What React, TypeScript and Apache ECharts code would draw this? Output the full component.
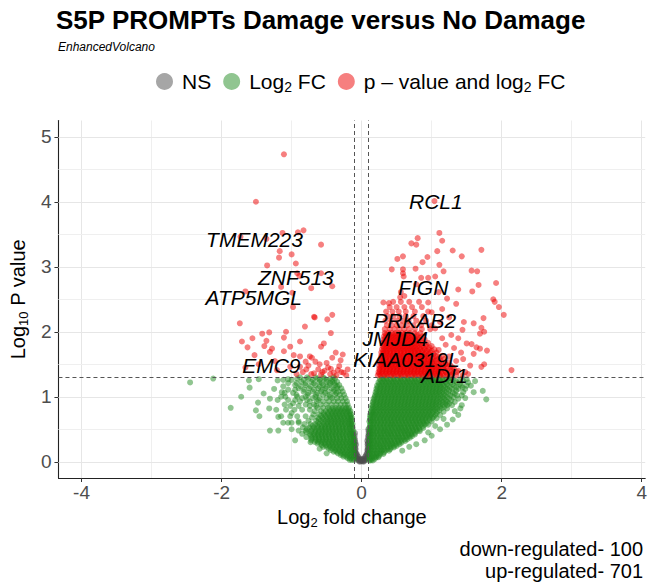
import React, { useEffect, useRef } from 'react';
import * as echarts from 'echarts';

const FONT = '"Liberation Sans", Arial, Helvetica, sans-serif';

const xTickValues = [-4, -2, 0, 2, 4];
const yTickValues = [0, 1, 2, 3, 4, 5];
const xGridMajor = [-4, -2, 0, 2, 4];
const xGridMinor = [-3, -1, 1, 3];
const yGridMajor = [0, 1, 2, 3, 4, 5];
const yGridMinor = [0.5, 1.5, 2.5, 3.5, 4.5];
const fcCutoff = 0.1;
const pCutoff = 1.30103;

const legendNames = ['NS', 'Log2 FC', 'p - value and log2 FC'];
const captionLines = ['down-regulated- 100', 'up-regulated- 701'];

// NS points [x, y]
const nsPoints: number[][] = [
  [0.0, 0.005], [0.02, 0.01], [-0.02, 0.01], [0.04, 0.02], [-0.04, 0.02], [0.01, 0.03], [-0.01, 0.03],
  [0.06, 0.04], [-0.06, 0.04], [0.03, 0.05], [-0.03, 0.05], [0.08, 0.06], [-0.08, 0.06], [0.05, 0.08],
  [-0.05, 0.08], [0.09, 0.1], [-0.09, 0.1], [0.07, 0.12], [-0.07, 0.12], [0.095, 0.16], [-0.095, 0.16],
  [0.08, 0.18], [-0.085, 0.2], [0.1, 0.24], [-0.1, 0.25], [0.09, 0.28], [-0.09, 0.3], [0.1, 0.34],
  [-0.1, 0.36], [0.095, 0.4], [0.1, 0.44], [-0.09, 0.14], [0.09, 0.2], [0.0, 0.02], [0.02, 0.04], [-0.02, 0.04],
  [0.03, 0.0], [-0.03, 0.0], [0.05, 0.02], [-0.05, 0.02], [0.07, 0.06], [-0.07, 0.06], [0.06, 0.09],
  [-0.06, 0.09], [0.08, 0.13], [-0.08, 0.13], [0.09, 0.17], [-0.09, 0.18], [0.085, 0.23], [-0.095, 0.22],
  [0.095, 0.3], [-0.1, 0.28], [0.09, 0.36], [-0.095, 0.33], [0.1, 0.4], [0.08, 0.32], [0.1, 0.47],
  [0.095, 0.5], [-0.1, 0.4], [-0.095, 0.44], [0.085, 0.27], [-0.08, 0.26],
];

// Log2 FC only, up side: rows [y, x1, x2, ...]
const fcUpRows: number[][] = [
  [0.02, 0.11, 0.13, 0.16],
  [0.07, 0.11, 0.14, 0.18, 0.21, 0.24],
  [0.12, 0.11, 0.15, 0.19, 0.23, 0.27, 0.31],
  [0.17, 0.12, 0.16, 0.2, 0.25, 0.29, 0.34, 0.39],
  [0.22, 0.11, 0.14, 0.18, 0.23, 0.28, 0.32, 0.37, 0.42, 0.46],
  [0.27, 0.12, 0.16, 0.21, 0.25, 0.3, 0.35, 0.4, 0.44, 0.49, 0.54],
  [0.32, 0.11, 0.14, 0.18, 0.23, 0.28, 0.33, 0.37, 0.42, 0.47, 0.52, 0.57, 0.62],
  [0.37, 0.12, 0.16, 0.21, 0.26, 0.3, 0.35, 0.4, 0.45, 0.5, 0.54, 0.59, 0.64, 0.69],
  [0.42, 0.11, 0.14, 0.18, 0.23, 0.28, 0.33, 0.38, 0.42, 0.47, 0.52, 0.57, 0.62, 0.67, 0.71, 0.76],
  [0.47, 0.12, 0.16, 0.21, 0.26, 0.31, 0.35, 0.4, 0.45, 0.5, 0.55, 0.6, 0.64, 0.69, 0.74, 0.79, 0.83],
  [0.52, 0.11, 0.14, 0.18, 0.23, 0.28, 0.33, 0.38, 0.43, 0.48, 0.53, 0.57, 0.62, 0.67, 0.72, 0.77, 0.82, 0.88],
  [0.57, 0.12, 0.16, 0.21, 0.26, 0.31, 0.36, 0.41, 0.45, 0.5, 0.55, 0.6, 0.65, 0.7, 0.75, 0.8, 0.85, 0.9, 0.95],
  [0.62, 0.11, 0.14, 0.18, 0.23, 0.28, 0.33, 0.38, 0.43, 0.48, 0.53, 0.58, 0.63, 0.68, 0.73, 0.78, 0.83, 0.88, 0.93, 1.0],
  [0.67, 0.12, 0.16, 0.21, 0.26, 0.31, 0.36, 0.41, 0.46, 0.51, 0.56, 0.61, 0.66, 0.71, 0.76, 0.81, 0.86, 0.91, 0.96, 1.01, 1.07],
  [0.72, 0.12, 0.15, 0.19, 0.24, 0.29, 0.34, 0.39, 0.44, 0.49, 0.54, 0.59, 0.64, 0.69, 0.74, 0.79, 0.84, 0.89, 0.94, 0.99, 1.05, 1.12],
  [0.77, 0.13, 0.17, 0.22, 0.27, 0.32, 0.37, 0.42, 0.47, 0.52, 0.57, 0.62, 0.67, 0.72, 0.77, 0.82, 0.87, 0.92, 0.97, 1.02, 1.08, 1.17],
  [0.82, 0.14, 0.18, 0.23, 0.28, 0.33, 0.38, 0.43, 0.48, 0.53, 0.58, 0.63, 0.68, 0.73, 0.78, 0.83, 0.88, 0.93, 0.98, 1.03, 1.08, 1.14, 1.22],
  [0.87, 0.15, 0.2, 0.25, 0.3, 0.35, 0.4, 0.45, 0.5, 0.55, 0.6, 0.65, 0.7, 0.75, 0.8, 0.85, 0.9, 0.95, 1.0, 1.05, 1.1, 1.16, 1.22, 1.29],
  [0.92, 0.16, 0.21, 0.26, 0.31, 0.36, 0.41, 0.46, 0.51, 0.56, 0.61, 0.66, 0.71, 0.76, 0.81, 0.86, 0.91, 0.96, 1.01, 1.06, 1.11, 1.16, 1.22, 1.33],
  [0.97, 0.17, 0.22, 0.27, 0.32, 0.37, 0.42, 0.47, 0.52, 0.57, 0.62, 0.67, 0.72, 0.77, 0.82, 0.87, 0.92, 0.97, 1.02, 1.07, 1.12, 1.18, 1.25, 1.38],
  [1.02, 0.19, 0.23, 0.28, 0.33, 0.38, 0.43, 0.48, 0.53, 0.58, 0.63, 0.68, 0.73, 0.78, 0.83, 0.88, 0.93, 0.98, 1.03, 1.08, 1.13, 1.19, 1.27, 1.36, 1.43],
  [1.07, 0.2, 0.25, 0.3, 0.35, 0.4, 0.45, 0.5, 0.55, 0.6, 0.65, 0.7, 0.75, 0.8, 0.85, 0.9, 0.95, 1.0, 1.05, 1.1, 1.15, 1.21, 1.3, 1.45],
  [1.12, 0.21, 0.26, 0.31, 0.36, 0.41, 0.46, 0.51, 0.56, 0.61, 0.66, 0.71, 0.76, 0.81, 0.86, 0.91, 0.96, 1.01, 1.06, 1.11, 1.16, 1.22, 1.29, 1.38, 1.48],
  [1.17, 0.22, 0.27, 0.32, 0.37, 0.42, 0.47, 0.52, 0.57, 0.62, 0.67, 0.72, 0.77, 0.82, 0.87, 0.92, 0.97, 1.02, 1.07, 1.12, 1.17, 1.23, 1.32, 1.42, 1.5],
  [1.22, 0.24, 0.29, 0.34, 0.39, 0.44, 0.49, 0.54, 0.59, 0.64, 0.69, 0.74, 0.79, 0.84, 0.89, 0.94, 0.99, 1.04, 1.09, 1.14, 1.2, 1.27, 1.36, 1.52],
  [1.27, 0.26, 0.31, 0.36, 0.41, 0.46, 0.51, 0.56, 0.61, 0.66, 0.71, 0.76, 0.81, 0.86, 0.91, 0.96, 1.01, 1.06, 1.11, 1.16, 1.22, 1.3, 1.41, 1.5],
];

// Log2 FC only, up side: in-between rows [y, x1, x2, ...]
const fcUpRowsB: number[][] = [
  [0.045, 0.12, 0.15, 0.19],
  [0.095, 0.12, 0.16, 0.21, 0.25],
  [0.145, 0.12, 0.17, 0.22, 0.27, 0.32],
  [0.195, 0.13, 0.18, 0.23, 0.27, 0.32, 0.37, 0.41],
  [0.245, 0.12, 0.16, 0.21, 0.26, 0.31, 0.36, 0.41, 0.46, 0.5],
  [0.295, 0.13, 0.18, 0.23, 0.28, 0.33, 0.38, 0.43, 0.48, 0.53, 0.57],
  [0.345, 0.12, 0.16, 0.21, 0.26, 0.31, 0.36, 0.41, 0.46, 0.51, 0.56, 0.61, 0.65],
  [0.395, 0.13, 0.18, 0.23, 0.28, 0.33, 0.38, 0.43, 0.48, 0.53, 0.58, 0.63, 0.68, 0.72],
  [0.445, 0.12, 0.16, 0.21, 0.26, 0.31, 0.36, 0.41, 0.46, 0.51, 0.56, 0.61, 0.66, 0.71, 0.76],
  [0.495, 0.13, 0.18, 0.23, 0.28, 0.33, 0.38, 0.43, 0.48, 0.53, 0.58, 0.63, 0.68, 0.73, 0.78, 0.83],
  [0.545, 0.12, 0.16, 0.21, 0.26, 0.31, 0.36, 0.41, 0.46, 0.51, 0.56, 0.61, 0.66, 0.71, 0.76, 0.81, 0.87],
  [0.595, 0.13, 0.18, 0.23, 0.28, 0.33, 0.38, 0.43, 0.48, 0.53, 0.58, 0.63, 0.68, 0.73, 0.78, 0.83, 0.88, 0.93],
  [0.645, 0.12, 0.16, 0.21, 0.26, 0.31, 0.36, 0.41, 0.46, 0.51, 0.56, 0.61, 0.66, 0.71, 0.76, 0.81, 0.86, 0.91, 0.97],
  [0.695, 0.13, 0.18, 0.23, 0.28, 0.33, 0.38, 0.43, 0.48, 0.53, 0.58, 0.63, 0.68, 0.73, 0.78, 0.83, 0.88, 0.93, 0.98, 1.03],
  [0.745, 0.14, 0.17, 0.21, 0.26, 0.31, 0.36, 0.41, 0.46, 0.51, 0.56, 0.61, 0.66, 0.71, 0.76, 0.81, 0.86, 0.91, 0.96, 1.01, 1.07],
  [0.795, 0.15, 0.2, 0.25, 0.3, 0.35, 0.4, 0.45, 0.5, 0.55, 0.6, 0.65, 0.7, 0.75, 0.8, 0.85, 0.9, 0.95, 1.0, 1.05, 1.11],
  [0.845, 0.16, 0.21, 0.26, 0.31, 0.36, 0.41, 0.46, 0.51, 0.56, 0.61, 0.66, 0.71, 0.76, 0.81, 0.86, 0.91, 0.96, 1.01, 1.06, 1.12, 1.18],
  [0.895, 0.17, 0.22, 0.27, 0.32, 0.37, 0.42, 0.47, 0.52, 0.57, 0.62, 0.67, 0.72, 0.77, 0.82, 0.87, 0.92, 0.97, 1.02, 1.07, 1.13, 1.2, 1.25],
  [0.945, 0.18, 0.23, 0.28, 0.33, 0.38, 0.43, 0.48, 0.53, 0.58, 0.63, 0.68, 0.73, 0.78, 0.83, 0.88, 0.93, 0.98, 1.03, 1.08, 1.14, 1.2, 1.28],
  [0.995, 0.19, 0.24, 0.29, 0.34, 0.39, 0.44, 0.49, 0.54, 0.59, 0.64, 0.69, 0.74, 0.79, 0.84, 0.89, 0.94, 0.99, 1.04, 1.1, 1.16, 1.22, 1.31],
  [1.045, 0.21, 0.26, 0.31, 0.36, 0.41, 0.46, 0.51, 0.56, 0.61, 0.66, 0.71, 0.76, 0.81, 0.86, 0.91, 0.96, 1.01, 1.06, 1.11, 1.17, 1.24, 1.33],
  [1.095, 0.22, 0.27, 0.32, 0.37, 0.42, 0.47, 0.52, 0.57, 0.62, 0.67, 0.72, 0.77, 0.82, 0.87, 0.92, 0.97, 1.02, 1.07, 1.12, 1.18, 1.25, 1.35],
  [1.145, 0.23, 0.28, 0.33, 0.38, 0.43, 0.48, 0.53, 0.58, 0.63, 0.68, 0.73, 0.78, 0.83, 0.88, 0.93, 0.98, 1.03, 1.08, 1.13, 1.19, 1.26, 1.35, 1.44],
  [1.195, 0.25, 0.3, 0.35, 0.4, 0.45, 0.5, 0.55, 0.6, 0.65, 0.7, 0.75, 0.8, 0.85, 0.9, 0.95, 1.0, 1.05, 1.1, 1.15, 1.22, 1.3, 1.4],
  [1.245, 0.27, 0.32, 0.37, 0.42, 0.47, 0.52, 0.57, 0.62, 0.67, 0.72, 0.77, 0.82, 0.87, 0.92, 0.97, 1.02, 1.07, 1.12, 1.18, 1.25, 1.34, 1.45],
  [1.29, 0.29, 0.35, 0.45, 0.55, 0.65, 0.75, 0.85, 0.95, 1.05, 1.15, 1.25],
];

// Log2 FC only, down side: rows [y, x1, x2, ...]
const fcDownRows: number[][] = [
  [0.03, -0.11, -0.14, -0.17],
  [0.08, -0.11, -0.14, -0.18, -0.22, -0.26],
  [0.13, -0.11, -0.15, -0.19, -0.24, -0.29, -0.34],
  [0.18, -0.11, -0.14, -0.18, -0.23, -0.28, -0.33, -0.38, -0.44],
  [0.23, -0.11, -0.15, -0.2, -0.25, -0.3, -0.35, -0.4, -0.45, -0.5, -0.55],
  [0.28, -0.11, -0.14, -0.18, -0.23, -0.28, -0.33, -0.38, -0.43, -0.48, -0.53, -0.58, -0.63],
  [0.33, -0.11, -0.15, -0.2, -0.25, -0.3, -0.35, -0.4, -0.45, -0.5, -0.55, -0.6, -0.65, -0.72],
  [0.38, -0.12, -0.16, -0.21, -0.26, -0.31, -0.36, -0.41, -0.46, -0.51, -0.56, -0.61, -0.66, -0.71, -0.79],
  [0.43, -0.12, -0.14, -0.18, -0.23, -0.28, -0.33, -0.38, -0.43, -0.48, -0.53, -0.58, -0.63, -0.68, -0.74, -0.85],
  [0.48, -0.12, -0.16, -0.21, -0.26, -0.31, -0.36, -0.41, -0.46, -0.51, -0.56, -0.61, -0.66, -0.72, -0.8, -0.9],
  [0.53, -0.13, -0.17, -0.22, -0.27, -0.32, -0.37, -0.42, -0.47, -0.52, -0.57, -0.62, -0.68, -0.75, -0.84],
  [0.58, -0.13, -0.15, -0.19, -0.24, -0.29, -0.34, -0.39, -0.44, -0.49, -0.54, -0.6, -0.66, -0.73, -0.82],
  [0.63, -0.14, -0.17, -0.22, -0.27, -0.32, -0.37, -0.42, -0.47, -0.52, -0.58, -0.65, -0.76],
  [0.68, -0.14, -0.16, -0.2, -0.25, -0.3, -0.35, -0.4, -0.45, -0.5, -0.56, -0.63, -0.71],
  [0.73, -0.15, -0.18, -0.23, -0.28, -0.33, -0.38, -0.43, -0.48, -0.54, -0.61, -0.69],
  [0.78, -0.16, -0.2, -0.25, -0.3, -0.35, -0.4, -0.45, -0.51, -0.58, -0.67],
  [0.83, -0.18, -0.22, -0.27, -0.32, -0.37, -0.42, -0.48, -0.55, -0.63],
  [0.88, -0.2, -0.24, -0.3, -0.36, -0.43, -0.5, -0.58, -0.68, -0.8],
  [0.93, -0.21, -0.27, -0.34, -0.4, -0.47, -0.55, -0.64, -0.74, -0.88],
  [0.98, -0.23, -0.29, -0.35, -0.42, -0.5, -0.6, -0.7, -0.85],
  [1.03, -0.25, -0.31, -0.38, -0.46, -0.55, -0.65, -0.77, -0.93],
  [1.08, -0.27, -0.33, -0.4, -0.48, -0.58, -0.7, -0.83],
  [1.13, -0.29, -0.35, -0.43, -0.52, -0.62, -0.75, -0.9],
  [1.18, -0.32, -0.38, -0.46, -0.55, -0.66, -0.8],
  [1.23, -0.35, -0.42, -0.5, -0.6, -0.72, -0.86],
  [1.28, -0.38, -0.45, -0.53, -0.63, -0.76, -0.92],
];

// Log2 FC only, down side: in-between rows of the dense core [y, x1, x2, ...]
const fcDownRowsB: number[][] = [
  [0.055, -0.12, -0.16, -0.2],
  [0.105, -0.12, -0.17, -0.21, -0.26, -0.3],
  [0.155, -0.12, -0.16, -0.21, -0.26, -0.31, -0.36, -0.4],
  [0.205, -0.13, -0.17, -0.22, -0.27, -0.32, -0.37, -0.42, -0.47],
  [0.255, -0.12, -0.16, -0.21, -0.26, -0.31, -0.36, -0.41, -0.46, -0.51, -0.57],
  [0.305, -0.13, -0.17, -0.22, -0.27, -0.32, -0.37, -0.42, -0.47, -0.52, -0.57, -0.62, -0.67],
  [0.355, -0.12, -0.16, -0.21, -0.26, -0.31, -0.36, -0.41, -0.46, -0.51, -0.56, -0.61, -0.66, -0.72],
  [0.405, -0.13, -0.17, -0.22, -0.27, -0.32, -0.37, -0.42, -0.47, -0.52, -0.57, -0.62, -0.67, -0.73],
  [0.455, -0.13, -0.16, -0.21, -0.26, -0.31, -0.36, -0.41, -0.46, -0.51, -0.56, -0.61, -0.66, -0.72, -0.79],
  [0.505, -0.14, -0.18, -0.23, -0.28, -0.33, -0.38, -0.43, -0.48, -0.53, -0.58, -0.64, -0.7, -0.78],
  [0.555, -0.14, -0.17, -0.22, -0.27, -0.32, -0.37, -0.42, -0.47, -0.52, -0.57, -0.63, -0.7],
  [0.605, -0.15, -0.19, -0.24, -0.29, -0.34, -0.39, -0.44, -0.49, -0.55, -0.62],
  [0.655, -0.15, -0.19, -0.24, -0.29, -0.34, -0.39, -0.44, -0.49, -0.55, -0.61],
  [0.705, -0.16, -0.21, -0.26, -0.31, -0.36, -0.41, -0.46, -0.52, -0.58],
  [0.755, -0.17, -0.22, -0.27, -0.32, -0.37, -0.42, -0.48, -0.54],
  [0.805, -0.19, -0.24, -0.29, -0.34, -0.4, -0.46],
];

// Log2 FC only, down side outer (less dense) rows [y, x1, x2, ...]
const fcDownOuterRows: number[][] = [
  [0.6, -0.9, -1.0, -1.12],
  [0.7, -0.8, -0.92, -1.02, -1.15],
  [0.8, -0.74, -0.85, -0.96, -1.08, -1.22],
  [0.86, -0.65, -0.74, -0.9, -1.02],
  [0.95, -0.62, -0.78, -0.95, -1.05, -1.2],
  [1.0, -0.45, -0.66, -0.8, -0.92, -1.15],
  [1.06, -0.36, -0.52, -0.63, -0.76, -0.98, -1.1],
  [1.11, -0.4, -0.56, -0.68, -0.82, -0.95, -1.05],
  [1.16, -0.35, -0.5, -0.6, -0.73, -0.87, -1.12],
  [1.21, -0.39, -0.45, -0.57, -0.68, -0.8, -0.93, -1.05],
  [1.26, -0.42, -0.5, -0.6, -0.7, -0.83, -1.0, -1.12],
  [1.3, -0.4, -0.55, -0.66, -0.78, -0.88],
];

// Log2 FC only, scattered points [x, y]
const fcScatter: number[][] = [
  [1.6, 1.07], [1.73, 1.09], [1.78, 0.96], [1.43, 0.87], [1.41, 0.82], [1.38, 0.72], [1.3, 0.65],
  [1.22, 0.57], [1.12, 0.5], [1.0, 0.4], [0.9, 0.33], [0.78, 0.27], [1.56, 1.17], [1.62, 1.24],
  [1.48, 0.98], [1.33, 0.78], [1.17, 0.66], [1.05, 0.55], [0.95, 0.45], [0.58, 0.17], [0.68, 0.23],
  [-2.45, 1.22], [-2.12, 1.28], [-1.87, 0.83], [-1.72, 1.0], [-1.61, 1.25], [-1.47, 1.27], [-1.6, 1.14],
  [-1.48, 0.91], [-1.51, 0.79], [-1.46, 0.7], [-1.31, 0.97], [-1.2, 1.25], [-1.05, 1.27], [-1.14, 1.07],
  [-1.09, 1.0], [-1.32, 0.82], [-1.19, 0.48], [-1.31, 0.48], [-0.95, 0.33], [-0.73, 0.3], [-1.05, 0.6],
  [-1.19, 0.69], [-1.0, 0.75], [-0.98, 0.9], [-1.25, 1.12], [-1.4, 1.05], [-0.95, 1.18], [-1.1, 0.88],
  [-1.0, 0.5], [-0.9, 0.62], [-0.6, 0.2], [-0.5, 0.13],
];

// p-value and log2 FC, up side dense rows [y, x1, x2, ...]
const sigUpRows: number[][] = [
  [1.33, 0.23, 0.27, 0.32, 0.37, 0.42, 0.47, 0.52, 0.57, 0.62, 0.67, 0.72, 0.77, 0.82, 0.87, 0.92, 0.97, 1.02, 1.07, 1.12, 1.17, 1.22, 1.28, 1.35, 1.44],
  [1.38, 0.24, 0.29, 0.34, 0.39, 0.44, 0.49, 0.54, 0.59, 0.64, 0.69, 0.74, 0.79, 0.84, 0.89, 0.94, 0.99, 1.04, 1.09, 1.14, 1.2, 1.27, 1.36],
  [1.43, 0.25, 0.3, 0.35, 0.4, 0.45, 0.5, 0.55, 0.6, 0.65, 0.7, 0.75, 0.8, 0.85, 0.9, 0.95, 1.0, 1.05, 1.1, 1.16, 1.23, 1.32],
  [1.48, 0.25, 0.29, 0.34, 0.39, 0.44, 0.49, 0.54, 0.59, 0.64, 0.69, 0.74, 0.79, 0.84, 0.89, 0.94, 0.99, 1.04, 1.1, 1.17, 1.27],
  [1.53, 0.26, 0.31, 0.36, 0.41, 0.46, 0.51, 0.56, 0.61, 0.66, 0.71, 0.76, 0.81, 0.86, 0.91, 0.96, 1.01, 1.07, 1.14, 1.24],
  [1.58, 0.27, 0.31, 0.35, 0.4, 0.45, 0.5, 0.55, 0.6, 0.65, 0.7, 0.75, 0.8, 0.85, 0.9, 0.95, 1.01, 1.08, 1.18],
  [1.63, 0.28, 0.33, 0.38, 0.43, 0.48, 0.53, 0.58, 0.63, 0.68, 0.73, 0.78, 0.83, 0.88, 0.93, 0.99, 1.06, 1.15],
  [1.68, 0.28, 0.32, 0.36, 0.41, 0.46, 0.51, 0.56, 0.61, 0.66, 0.71, 0.76, 0.81, 0.86, 0.92, 0.98, 1.07],
  [1.73, 0.29, 0.34, 0.39, 0.44, 0.49, 0.54, 0.59, 0.64, 0.69, 0.74, 0.79, 0.84, 0.9, 0.96, 1.04],
  [1.78, 0.3, 0.35, 0.4, 0.45, 0.5, 0.55, 0.6, 0.65, 0.7, 0.75, 0.8, 0.86, 0.92, 1.0],
  [1.83, 0.3, 0.35, 0.4, 0.45, 0.5, 0.55, 0.6, 0.65, 0.7, 0.75, 0.81, 0.87, 0.95],
  [1.88, 0.31, 0.36, 0.41, 0.46, 0.51, 0.56, 0.61, 0.66, 0.71, 0.76, 0.82, 0.9],
  [1.93, 0.32, 0.37, 0.42, 0.47, 0.52, 0.57, 0.62, 0.67, 0.72, 0.78, 0.86],
  [1.98, 0.33, 0.38, 0.43, 0.48, 0.53, 0.58, 0.63, 0.69, 0.76, 0.84],
  [2.04, 0.33, 0.4, 0.47, 0.54, 0.61, 0.68, 0.76, 0.86, 0.98],
  [2.1, 0.36, 0.43, 0.5, 0.57, 0.65, 0.74, 0.85, 1.0],
  [2.17, 0.34, 0.42, 0.5, 0.58, 0.67, 0.78, 0.92],
  [2.24, 0.37, 0.45, 0.54, 0.63, 0.74, 0.88],
  [2.31, 0.35, 0.44, 0.53, 0.63, 0.76, 0.95],
  [2.38, 0.4, 0.5, 0.61, 0.72, 0.86],
  [2.46, 0.45, 0.56, 0.68, 0.82],
];

// p-value and log2 FC, up side: in-between rows of the dense core [y, x1, x2, ...]
const sigUpRowsB: number[][] = [
  [1.355, 0.25, 0.3, 0.35, 0.4, 0.45, 0.5, 0.55, 0.6, 0.65, 0.7, 0.75, 0.8, 0.85, 0.9, 0.95, 1.0, 1.05, 1.1, 1.15, 1.22, 1.3],
  [1.405, 0.26, 0.31, 0.36, 0.41, 0.46, 0.51, 0.56, 0.61, 0.66, 0.71, 0.76, 0.81, 0.86, 0.91, 0.96, 1.01, 1.06, 1.12, 1.19, 1.27],
  [1.455, 0.27, 0.32, 0.37, 0.42, 0.47, 0.52, 0.57, 0.62, 0.67, 0.72, 0.77, 0.82, 0.87, 0.92, 0.97, 1.02, 1.07, 1.13, 1.21],
  [1.505, 0.28, 0.33, 0.38, 0.43, 0.48, 0.53, 0.58, 0.63, 0.68, 0.73, 0.78, 0.83, 0.88, 0.93, 0.98, 1.04, 1.11, 1.2],
  [1.555, 0.29, 0.34, 0.39, 0.44, 0.49, 0.54, 0.59, 0.64, 0.69, 0.74, 0.79, 0.84, 0.89, 0.94, 0.99, 1.05, 1.13],
  [1.605, 0.3, 0.35, 0.4, 0.45, 0.5, 0.55, 0.6, 0.65, 0.7, 0.75, 0.8, 0.85, 0.9, 0.96, 1.03, 1.11],
  [1.655, 0.3, 0.35, 0.4, 0.45, 0.5, 0.55, 0.6, 0.65, 0.7, 0.75, 0.8, 0.85, 0.9, 0.96, 1.03],
  [1.705, 0.31, 0.36, 0.41, 0.46, 0.51, 0.56, 0.61, 0.66, 0.71, 0.76, 0.81, 0.87, 0.93, 1.0],
  [1.755, 0.32, 0.37, 0.42, 0.47, 0.52, 0.57, 0.62, 0.67, 0.72, 0.77, 0.83, 0.89, 0.97],
  [1.805, 0.32, 0.37, 0.42, 0.47, 0.52, 0.57, 0.62, 0.67, 0.72, 0.78, 0.84, 0.92],
  [1.855, 0.33, 0.38, 0.43, 0.48, 0.53, 0.58, 0.63, 0.68, 0.73, 0.79, 0.86],
  [1.905, 0.34, 0.39, 0.44, 0.49, 0.54, 0.59, 0.64, 0.69, 0.75, 0.82],
  [1.955, 0.35, 0.4, 0.45, 0.5, 0.55, 0.6, 0.65, 0.71, 0.79],
];

// p-value and log2 FC, up side scattered [x, y]
const sigUpScatter: number[][] = [
  [1.04, 4.01], [1.11, 3.52], [0.8, 3.44], [0.71, 3.36], [0.78, 3.34], [1.15, 3.4], [1.08, 3.24], [1.3, 3.25],
  [1.71, 3.26], [1.43, 3.16], [0.94, 3.15], [0.59, 3.16], [0.51, 3.12], [0.87, 3.07], [1.11, 3.03], [0.43, 2.96],
  [0.59, 2.96], [0.77, 2.97], [1.17, 2.93], [1.57, 2.94], [1.65, 2.93], [0.59, 2.9], [0.6, 2.85], [1.05, 2.85],
  [0.95, 2.83], [0.85, 2.83], [1.67, 2.72], [1.92, 2.75], [1.38, 2.65], [1.58, 2.62], [1.1, 2.61], [0.78, 2.73],
  [0.56, 2.61], [1.22, 2.51], [0.55, 2.53], [0.61, 2.55], [1.88, 2.5], [1.96, 2.38], [2.03, 2.26], [1.74, 2.21],
  [1.6, 2.13], [1.46, 2.15], [1.44, 2.03], [1.71, 2.06], [1.75, 2.0], [1.69, 1.97], [1.57, 1.81], [1.69, 1.74],
  [1.5, 1.82], [1.6, 1.66], [1.71, 1.46], [1.75, 1.5], [2.14, 1.41], [1.79, 1.71], [1.64, 1.76], [1.35, 2.43],
  [0.31, 2.45], [0.39, 2.44], [1.9, 2.46], [1.2, 1.5], [1.3, 1.45], [1.25, 1.62], [1.38, 1.4], [1.45, 1.58],
  [1.32, 1.75], [1.2, 1.8], [1.15, 1.9], [1.28, 1.95], [1.05, 2.05], [1.12, 2.15], [1.25, 2.22], [1.0, 2.3],
  [1.15, 2.35], [0.95, 2.45], [1.1, 1.72], [1.38, 1.9], [1.52, 1.35], [1.55, 1.48], [1.42, 1.68], [1.48, 1.38],
  [1.35, 1.55],
];

// p-value and log2 FC, down side [x, y]
const sigDown: number[][] = [
  [-1.11, 4.73], [-1.51, 4.0], [-1.73, 3.46], [-1.13, 3.52], [-0.91, 3.53], [-0.83, 3.56], [-0.58, 3.34],
  [-1.36, 3.43], [-1.17, 3.24], [-1.18, 3.14], [-1.0, 3.19], [-0.94, 3.05], [-1.35, 3.02], [-0.92, 2.9],
  [-0.89, 2.86], [-0.58, 2.9], [-0.72, 2.67], [-0.42, 2.7], [-1.15, 2.69], [-0.99, 2.6], [-1.66, 2.62],
  [-0.98, 2.38], [-0.68, 2.23], [-0.42, 2.26], [-0.49, 2.19], [-1.74, 2.13], [-0.81, 2.08], [-0.44, 1.98],
  [-1.42, 1.97], [-1.32, 1.99], [-1.08, 2.0], [-1.11, 1.91], [-1.71, 1.85], [-1.36, 1.86], [-0.88, 1.85],
  [-0.54, 1.82], [-0.58, 1.77], [-1.63, 1.76], [-1.39, 1.78], [-1.28, 1.74], [-1.31, 1.69], [-1.11, 1.7],
  [-0.97, 1.64], [-0.88, 1.62], [-0.74, 1.62], [-0.71, 1.6], [-0.37, 1.68], [-0.27, 1.65], [-0.42, 1.6],
  [-1.53, 1.64], [-0.8, 1.54], [-0.66, 1.54], [-0.88, 1.46], [-0.62, 1.42], [-0.53, 1.4], [-0.44, 1.43],
  [-0.32, 1.47], [-1.66, 1.45], [-0.79, 1.42], [-0.68, 1.36], [-0.58, 1.34], [-0.45, 1.35], [-1.56, 1.9],
  [-1.02, 1.77], [-1.21, 1.41], [-0.67, 2.22], [-1.47, 1.5], [-1.02, 1.46], [-0.36, 1.33], [-0.26, 1.37],
  [-0.2, 1.42], [-0.3, 1.56], [-0.5, 1.52], [-1.24, 1.55], [-0.22, 1.33], [-0.29, 1.38], [-0.34, 1.41],
  [-0.4, 1.37], [-0.48, 1.45], [-0.56, 1.38], [-0.72, 1.35], [-0.76, 1.48], [-0.84, 1.38], [-0.93, 1.35],
  [-0.6, 1.5],
];

const geneLabels = ['TMEM223', 'ZNF513', 'ATP5MGL', 'EMC9', 'RCL1', 'FIGN', 'PRKAB2', 'JMJD4', 'KIAA0319L', 'ADI1'];
const geneLabelX = [-1.53, -0.94, -1.54, -1.29, 1.06, 0.88, 0.76, 0.48, 0.64, 1.18];
const geneLabelY = [3.42, 2.83, 2.52, 1.48, 4.0, 2.68, 2.18, 1.89, 1.58, 1.32];

const rowsToPoints = (rows: number[][]) =>
  rows.flatMap((r) => r.slice(1).map((x) => [x, r[0]]));

const mkRich = (size: number) => ({
  a: { fontFamily: FONT, fontSize: size, color: '#000', lineHeight: size + 4 },
  s: { fontFamily: FONT, fontSize: Math.round(size * 0.66), color: '#000', lineHeight: Math.round(size * 0.66), verticalAlign: 'bottom' },
});

const POINT_SIZE = 6;

export default function App() {
  const ref = useRef<HTMLDivElement>(null);
  useEffect(() => {
    if (!ref.current) return;
    const chart = echarts.init(ref.current, undefined, { renderer: 'svg' });
    const gridLine = (v: number, axis: 'xAxis' | 'yAxis', major: boolean) => ({
      [axis]: v,
      lineStyle: { color: major ? '#E6E6E6' : '#EFEFEF', width: 1, type: 'solid' },
    });
    const gridData = [
      ...xGridMajor.map((v) => gridLine(v, 'xAxis', true)),
      ...xGridMinor.map((v) => gridLine(v, 'xAxis', false)),
      ...yGridMajor.map((v) => gridLine(v, 'yAxis', true)),
      ...yGridMinor.map((v) => gridLine(v, 'yAxis', false)),
    ];
    const legendLabel = (name: string) => {
      if (name === 'Log2 FC') return '{a|Log}{s|2}{a| FC}';
      if (name === 'p - value and log2 FC') return '{a|p – value and log}{s|2}{a| FC}';
      return '{a|' + name + '}';
    };
    const option: any = {
      animation: false,
      backgroundColor: '#fff',
      title: [
        {
          text: 'S5P PROMPTs Damage versus No Damage',
          left: 56, top: 7, padding: 0,
          textStyle: { fontFamily: FONT, fontSize: 26, fontWeight: 'bold', color: '#000' },
        },
        {
          text: 'EnhancedVolcano',
          left: 58, top: 41, padding: 0,
          textStyle: { fontFamily: FONT, fontSize: 12, fontStyle: 'italic', fontWeight: 'normal', color: '#000' },
        },
        {
          text: captionLines[0],
          right: 7, top: 539, padding: 0,
          textStyle: { fontFamily: FONT, fontSize: 20, fontWeight: 'normal', color: '#000' },
        },
        {
          text: captionLines[1],
          right: 7, top: 561, padding: 0,
          textStyle: { fontFamily: FONT, fontSize: 20, fontWeight: 'normal', color: '#000' },
        },
      ],
      legend: {
        data: legendNames,
        left: 156, top: 71, padding: 0,
        icon: 'circle', itemWidth: 17, itemHeight: 17, itemGap: 12,
        selectedMode: false,
        formatter: legendLabel,
        textStyle: { fontFamily: FONT, fontSize: 21, color: '#000', padding: [0, 0, 0, 4], rich: mkRich(21) },
      },
      grid: { left: 58, right: 0, top: 120.5, bottom: 106, containLabel: false },
      xAxis: {
        type: 'value', min: -4.33, max: 4.05,
        name: '{a|Log}{s|2}{a| fold change}',
        nameLocation: 'middle', nameGap: 27,
        nameTextStyle: { rich: mkRich(20) },
        axisLine: { show: true, onZero: false, lineStyle: { color: '#222', width: 1.1 } },
        axisTick: { show: true, length: 4, customValues: xTickValues, lineStyle: { color: '#333' } },
        axisLabel: { customValues: xTickValues, fontFamily: FONT, fontSize: 19, color: '#4D4D4D', margin: 5 },
        splitLine: { show: false },
      },
      yAxis: {
        type: 'value', min: -0.25, max: 5.25,
        name: '{a|Log}{s|10}{a| P value}',
        nameLocation: 'middle', nameGap: 25,
        nameTextStyle: { rich: mkRich(20) },
        axisLine: { show: true, onZero: false, lineStyle: { color: '#222', width: 1.1 } },
        axisTick: { show: true, length: 4, customValues: yTickValues, lineStyle: { color: '#333' } },
        axisLabel: { customValues: yTickValues, fontFamily: FONT, fontSize: 19, color: '#4D4D4D', margin: 7 },
        splitLine: { show: false },
      },
      series: [
        {
          name: 'NS', type: 'scatter', z: 2, symbolSize: POINT_SIZE,
          itemStyle: { color: '#4D4D4D', opacity: 0.5 },
          data: nsPoints,
          silent: true,
          markLine: {
            silent: true, z: 1, symbol: ['none', 'none'], animation: false,
            label: { show: false },
            data: gridData,
          },
        },
        {
          name: 'Log2 FC', type: 'scatter', z: 3, symbolSize: POINT_SIZE,
          itemStyle: { color: '#228B22', opacity: 0.5 },
          data: [
            ...rowsToPoints(fcDownRows), ...rowsToPoints(fcDownRowsB), ...rowsToPoints(fcDownOuterRows),
            ...rowsToPoints(fcUpRows), ...rowsToPoints(fcUpRowsB), ...fcScatter,
          ],
          silent: true,
        },
        {
          name: 'p - value and log2 FC', type: 'scatter', z: 4, symbolSize: POINT_SIZE,
          itemStyle: { color: '#EE0000', opacity: 0.5 },
          data: [...sigDown, ...rowsToPoints(sigUpRows), ...rowsToPoints(sigUpRowsB), ...sigUpScatter],
          silent: true,
        },
        {
          name: 'labels', type: 'scatter', z: 10, symbolSize: 0, silent: true,
          itemStyle: { opacity: 1 },
          data: geneLabels.map((g, i) => ({ name: g, value: [geneLabelX[i], geneLabelY[i]] })),
          label: {
            show: true, position: 'inside', formatter: '{b}',
            fontFamily: FONT, fontSize: 21, fontStyle: 'italic', color: '#000',
            textBorderWidth: 0, textBorderColor: 'transparent', opacity: 1,
          },
          markLine: {
            silent: true, z: 6, symbol: ['none', 'none'], animation: false,
            label: { show: false },
            lineStyle: { color: '#555', type: [4, 3], width: 1 },
            data: [{ xAxis: -fcCutoff }, { xAxis: fcCutoff }, { yAxis: pCutoff }],
          },
        },
      ],
    };
    chart.setOption(option);
    return () => chart.dispose();
  }, []);
  return <div ref={ref} style={{ position: 'fixed', left: 0, top: 0, width: 650, height: 584 }} />;
}
